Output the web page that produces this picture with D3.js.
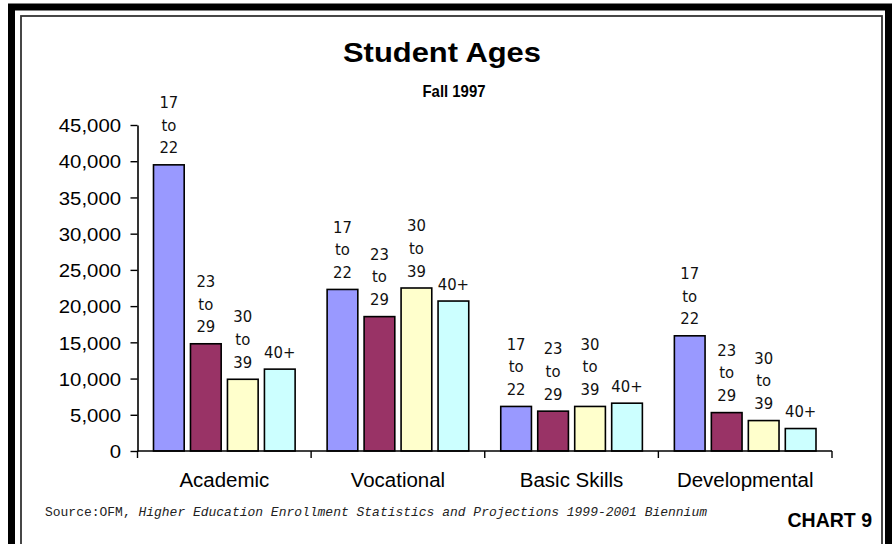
<!DOCTYPE html>
<html>
<head>
<meta charset="utf-8">
<script src="https://cdn.jsdelivr.net/npm/d3@7/dist/d3.min.js"></script>
<style>
  html, body { margin: 0; padding: 0; background: #fff; }
  svg { display: block; }
</style>
</head>
<body>
<svg id="chart" width="895" height="544"></svg>
<script>
// ---- Data ----
const categories = ["Academic", "Vocational", "Basic Skills", "Developmental"];
const seriesNames = ["17 to 22", "23 to 29", "30 to 39", "40+"];
const seriesLabelLines = [["17", "to", "22"], ["23", "to", "29"], ["30", "to", "39"], ["40+"]];
const seriesColors = ["#9999FF", "#993366", "#FFFFCC", "#CCFFFF"];
const age17to22 = [39500, 22300, 6150, 15900];
const age23to29 = [14800, 18550, 5500, 5300];
const age30to39 = [9900, 22500, 6150, 4200];
const age40plus = [11300, 20700, 6600, 3100];
const seriesValues = [age17to22, age23to29, age30to39, age40plus];
const yTicks = [0, 5000, 10000, 15000, 20000, 25000, 30000, 35000, 40000, 45000];

(function () {
const svg = d3.select("#chart");

// Frame
svg.append("rect").attr("x", 11.5).attr("y", 7).attr("width", 877).attr("height", 620)
  .attr("fill", "none").attr("stroke", "#000").attr("stroke-width", 7);
svg.append("rect").attr("x", 21).attr("y", 16).attr("width", 861).attr("height", 620)
  .attr("fill", "none").attr("stroke", "#333").attr("stroke-width", 1.8);

// Titles
svg.append("text").attr("x", 442).attr("y", 62).attr("text-anchor", "middle")
  .attr("font-family", "Liberation Sans, Arial, sans-serif").attr("font-weight", "bold")
  .attr("font-size", 28.5).attr("textLength", 198).attr("lengthAdjust", "spacingAndGlyphs")
  .text("Student Ages");
svg.append("text").attr("x", 454).attr("y", 97).attr("text-anchor", "middle")
  .attr("font-family", "Liberation Sans, Arial, sans-serif").attr("font-weight", "bold")
  .attr("font-size", 17).attr("textLength", 63).attr("lengthAdjust", "spacingAndGlyphs")
  .text("Fall 1997");

// Scales
const pLeft = 137.5, pRight = 832, pTop = 125, pBottom = 451;
const x0 = d3.scaleBand().domain(categories).range([pLeft, pRight]).padding(0);
const x1 = d3.scaleBand().domain(seriesNames).range([16, x0.bandwidth() - 16]).paddingInner(0.17).paddingOuter(0);
const y = d3.scaleLinear().domain([0, 45000]).range([pBottom, pTop]);

// Bars
const groups = svg.append("g").selectAll("g").data(categories).join("g")
  .attr("transform", d => `translate(${x0(d)},0)`);

groups.each(function(cat, ci) {
  const g = d3.select(this);
  seriesNames.forEach((s, si) => {
    const v = seriesValues[si][ci];
    g.append("rect")
      .attr("x", x1(s)).attr("y", y(v))
      .attr("width", x1.bandwidth()).attr("height", y(0) - y(v))
      .attr("fill", seriesColors[si]).attr("stroke", "#000").attr("stroke-width", 1.6);
    const lines = seriesLabelLines[si];
    const cx = x1(s) + x1.bandwidth() / 2;
    const t = g.append("text").attr("text-anchor", "middle")
      .attr("font-family", "DejaVu Sans Condensed, DejaVu Sans, sans-serif")
      .attr("font-stretch", "condensed")
      .attr("font-size", 16.5).attr("fill", "#111");
    lines.forEach((ln, li) => {
      t.append("tspan").attr("x", cx)
        .attr("y", y(v) - 11.5 - (lines.length - 1 - li) * 22.7)
        .text(ln);
    });
  });
});

// Y axis
const yAxis = svg.append("g").attr("transform", `translate(${pLeft},0)`)
  .call(d3.axisLeft(y).tickValues(yTicks).tickFormat(d3.format(",")).tickSize(7).tickSizeOuter(0).tickPadding(8));
yAxis.select(".domain").attr("stroke", "#000").attr("stroke-width", 1.6);
yAxis.selectAll(".tick line").attr("stroke", "#000").attr("stroke-width", 1.4);
yAxis.selectAll(".tick text").attr("font-family", "Liberation Sans, Arial, sans-serif")
  .attr("font-size", 18.5).attr("fill", "#000").attr("dy", "0.36em")
  .attr("transform", "scale(1.1,1)");

// X axis line + category boundary ticks
svg.append("line").attr("x1", pLeft).attr("x2", pRight).attr("y1", pBottom).attr("y2", pBottom)
  .attr("stroke", "#000").attr("stroke-width", 1.6);
const boundaries = categories.map(c => x0(c)).concat([pRight]);
svg.append("g").selectAll("line").data(boundaries).join("line")
  .attr("x1", d => d).attr("x2", d => d).attr("y1", pBottom).attr("y2", pBottom + 7)
  .attr("stroke", "#000").attr("stroke-width", 1.4);

// Category labels
svg.append("g").selectAll("text").data(categories).join("text")
  .attr("text-anchor", "middle")
  .attr("transform", d => `translate(${x0(d) + x0.bandwidth() / 2},487) scale(1.05,1)`)
  .attr("font-family", "Liberation Sans, Arial, sans-serif").attr("font-size", 19.5).attr("fill", "#000")
  .text(d => d);

// Source
const src = svg.append("text").attr("x", 45).attr("y", 516)
  .attr("font-family", "Liberation Mono, Courier New, monospace").attr("font-size", 13).attr("fill", "#222")
  .attr("textLength", 662).attr("lengthAdjust", "spacingAndGlyphs");
src.append("tspan").text("Source:OFM, ");
src.append("tspan").attr("font-style", "italic").text("Higher Education Enrollment Statistics and Projections 1999-2001 Biennium");

// Chart number
svg.append("text").attr("x", 872).attr("y", 527).attr("text-anchor", "end")
  .attr("font-family", "Liberation Sans, Arial, sans-serif").attr("font-weight", "bold")
  .attr("font-size", 19.5).attr("fill", "#000").text("CHART 9");
})();
</script>
</body>
</html>
